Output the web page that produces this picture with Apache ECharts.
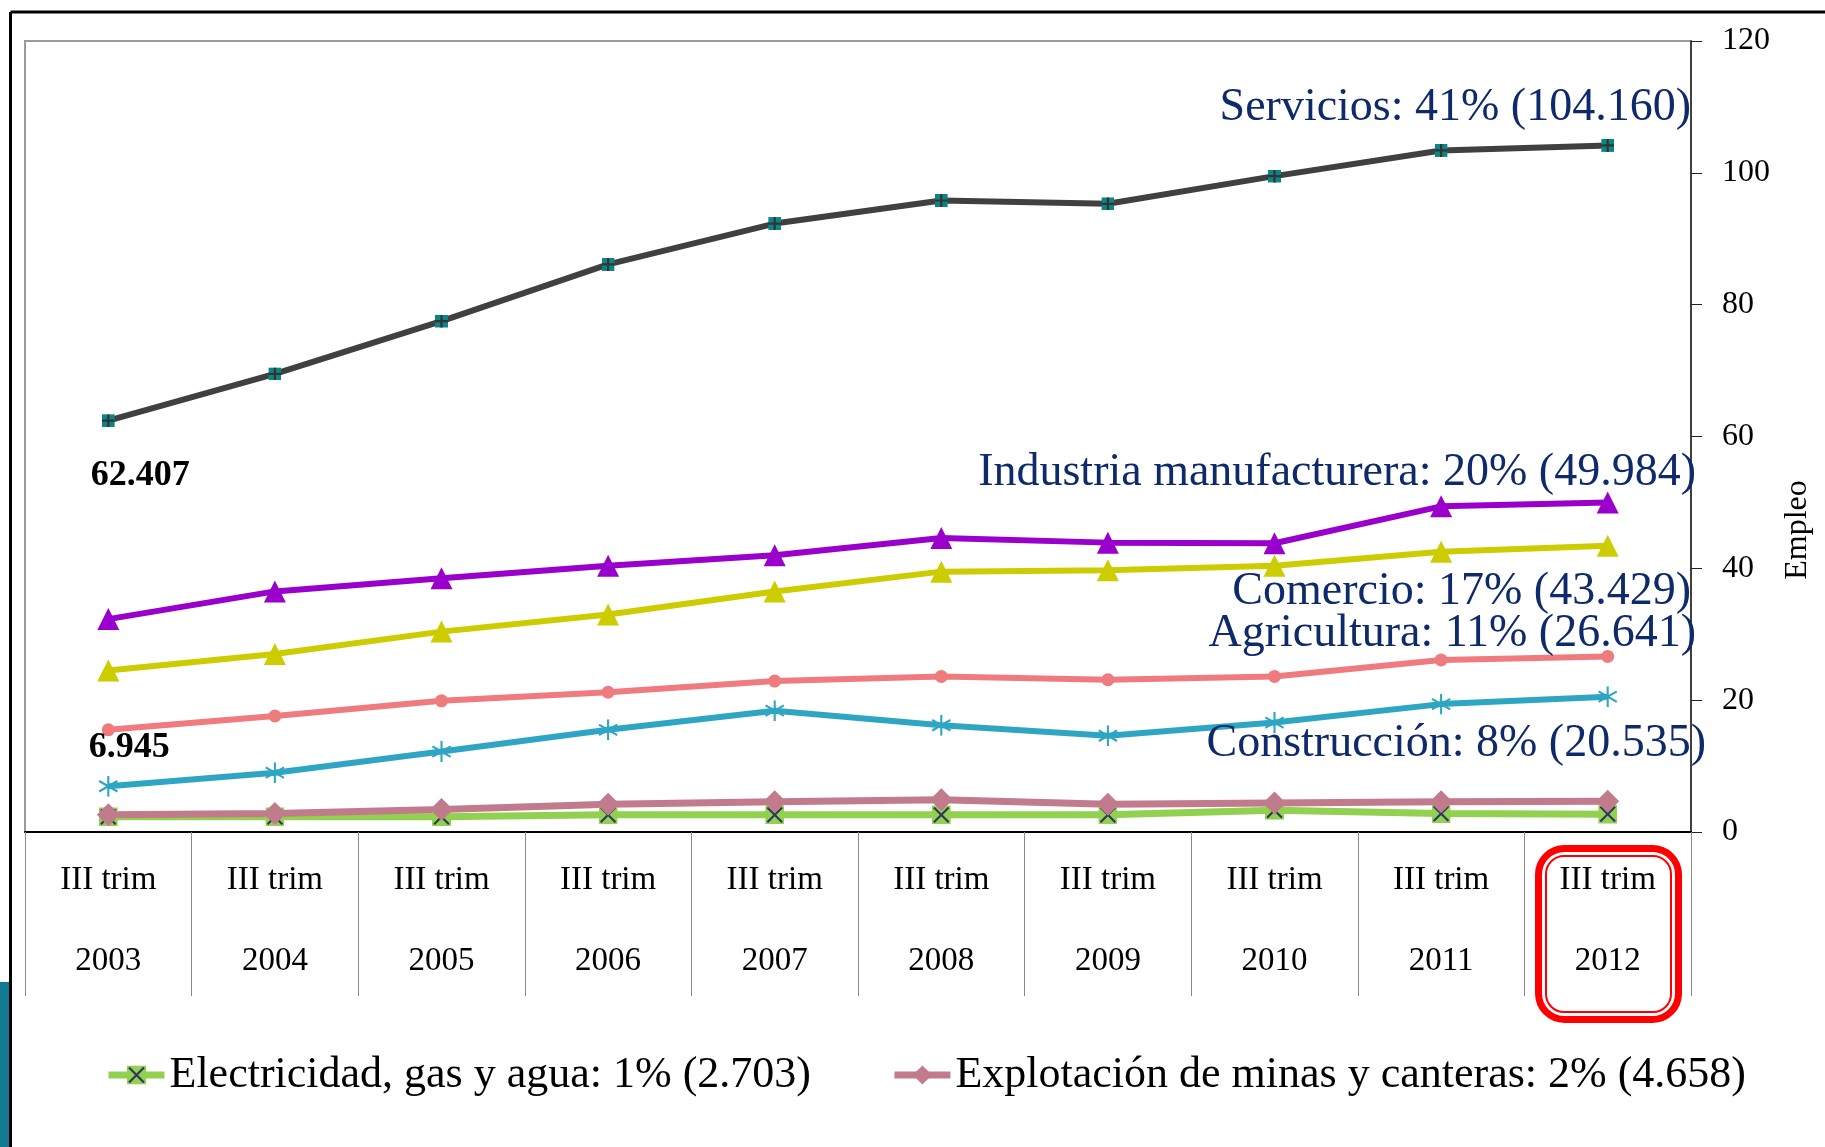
<!DOCTYPE html>
<html>
<head>
<meta charset="utf-8">
<script src="https://cdn.jsdelivr.net/npm/echarts@6/dist/echarts.min.js"></script>
<style>
  html, body { margin: 0; padding: 0; background: #fff; }
  #chart { width: 1825px; height: 1147px; }
</style>
</head>
<body>
<div id="chart"></div>
<script>
// periodos (III trimestre de cada año)
const years = ["2003", "2004", "2005", "2006", "2007", "2008", "2009", "2010", "2011", "2012"];
const yTicks = [0, 20, 40, 60, 80, 100, 120];

// empleo en miles
const electricidad = [2.3, 2.3, 2.3, 2.6, 2.6, 2.6, 2.6, 3.3, 2.8, 2.703];
const minas = [2.6, 2.8, 3.4, 4.2, 4.6, 4.9, 4.2, 4.4, 4.6, 4.658];
const construccion = [6.945, 9.0, 12.2, 15.5, 18.4, 16.2, 14.6, 16.6, 19.4, 20.535];
const agricultura = [15.5, 17.6, 19.9, 21.2, 22.9, 23.6, 23.1, 23.6, 26.1, 26.641];
const comercio = [24.5, 27.0, 30.4, 33.0, 36.5, 39.5, 39.7, 40.4, 42.5, 43.429];
const industria = [32.3, 36.5, 38.5, 40.4, 42.0, 44.6, 43.9, 43.8, 49.4, 49.984];
const servicios = [62.407, 69.5, 77.5, 86.1, 92.3, 95.8, 95.3, 99.5, 103.4, 104.160];

// participación en 2012 (%)
const shares = { electricidad: 1, minas: 2, construccion: 8, agricultura: 11, comercio: 17, industria: 20, servicios: 41 };

const FONT = "Liberation Serif";
const NAVY = "#0f2a6b";

const last = arr => arr[arr.length - 1].toFixed(3);
const svgIcon = s => "image://data:image/svg+xml;charset=utf-8," + encodeURIComponent(s);

const iconServicios = svgIcon("<svg xmlns='http://www.w3.org/2000/svg' width='12' height='12'><rect width='12' height='12' fill='#0b8585'/><path d='M6 0V12M0 6H12' stroke='#333' stroke-width='2'/></svg>");
const iconElectricidad = svgIcon("<svg xmlns='http://www.w3.org/2000/svg' width='18' height='18'><rect width='18' height='18' fill='#92d050'/><path d='M2 2L16 16M16 2L2 16' stroke='#2e3560' stroke-width='2'/></svg>");
const iconConstruccion = svgIcon("<svg xmlns='http://www.w3.org/2000/svg' width='20' height='20'><path d='M10 0V20M1.3 5L18.7 15M1.3 15L18.7 5' stroke='#2ea6c3' stroke-width='2'/></svg>");

const nameElectricidad = "Electricidad, gas y agua: " + shares.electricidad + "% (" + last(electricidad) + ")";
const nameMinas = "Explotación de minas y canteras: " + shares.minas + "% (" + last(minas) + ")";

const chart = echarts.init(document.getElementById("chart"));

const firstLabel = (arr, label) => arr.map((v, i) => i === 0 ? { value: v, label: Object.assign({
  show: true,
  formatter: p => p.value.toFixed(3),
  fontFamily: FONT,
  fontWeight: "bold",
  fontSize: 36,
  color: "#000"
}, label) } : v);

const annotation = (x, y, text) => ({
  type: "text", z: 20, x: x, y: y,
  style: { text: text, fontFamily: FONT, fontSize: 46, fill: NAVY, align: "right", verticalAlign: "middle" }
});

const option = {
  animation: false,
  backgroundColor: "#fff",
  grid: {
    left: 25,
    right: 134,
    top: 41,
    bottom: 315,
    show: true,
    borderColor: "#9a9a9a",
    borderWidth: 2
  },
  legend: {
    data: [nameElectricidad, nameMinas],
    left: 100,
    top: 1048,
    itemGap: 80,
    itemWidth: 56,
    itemHeight: 24,
    lineStyle: { width: 7 },
    textStyle: { fontFamily: FONT, fontSize: 44, color: "#000" }
  },
  xAxis: {
    type: "category",
    data: years,
    boundaryGap: true,
    axisLine: { lineStyle: { color: "#000", width: 2 } },
    axisTick: { show: true, interval: 0, length: 164, lineStyle: { color: "#8a8a8a", width: 1 } },
    axisLabel: {
      interval: 0,
      margin: 8,
      fontFamily: FONT,
      fontSize: 33,
      lineHeight: 81,
      color: "#000",
      formatter: v => "III trim\n" + v
    }
  },
  yAxis: {
    type: "value",
    position: "right",
    min: yTicks[0],
    max: yTicks[yTicks.length - 1],
    interval: 20,
    splitLine: { show: false },
    axisLine: { show: true, lineStyle: { color: "#222", width: 1.5 } },
    axisTick: { show: true, length: 11, lineStyle: { color: "#222" } },
    axisLabel: { margin: 31, fontFamily: FONT, fontSize: 32, color: "#000" }
  },
  series: [
    {
      name: nameElectricidad,
      type: "line",
      data: electricidad,
      symbol: iconElectricidad,
      symbolSize: 19,
      lineStyle: { color: "#92d050", width: 7 },
      itemStyle: { color: "#92d050" }
    },
    {
      name: nameMinas,
      type: "line",
      data: minas,
      symbol: "diamond",
      symbolSize: 23,
      lineStyle: { color: "#c27b8c", width: 7 },
      itemStyle: { color: "#c27b8c" }
    },
    {
      name: "Construcción",
      type: "line",
      data: firstLabel(construccion, { position: "top", distance: 10, offset: [21, 0] }),
      symbol: iconConstruccion,
      symbolSize: 21,
      lineStyle: { color: "#2ea6c3", width: 6 },
      itemStyle: { color: "#2ea6c3" }
    },
    {
      name: "Agricultura",
      type: "line",
      data: agricultura,
      symbol: "circle",
      symbolSize: 13,
      lineStyle: { color: "#ef7b7e", width: 6 },
      itemStyle: { color: "#ef7b7e" }
    },
    {
      name: "Comercio",
      type: "line",
      data: comercio,
      symbol: "triangle",
      symbolSize: [22, 22],
      lineStyle: { color: "#cccc00", width: 6 },
      itemStyle: { color: "#cccc00" }
    },
    {
      name: "Industria manufacturera",
      type: "line",
      data: industria,
      symbol: "triangle",
      symbolSize: [22, 22],
      lineStyle: { color: "#9900cc", width: 6 },
      itemStyle: { color: "#9900cc" }
    },
    {
      name: "Servicios",
      type: "line",
      data: firstLabel(servicios, { position: "bottom", distance: 31, offset: [32, 0] }),
      symbol: iconServicios,
      symbolSize: 13,
      lineStyle: { color: "#404040", width: 6 },
      itemStyle: { color: "#404040" }
    }
  ],
  graphic: [
    // marco exterior
    { type: "line", shape: { x1: 10.5, y1: 12, x2: 1825, y2: 12 }, style: { stroke: "#000", lineWidth: 3 } },
    { type: "line", shape: { x1: 10.5, y1: 12, x2: 10.5, y2: 1147 }, style: { stroke: "#000", lineWidth: 3 } },
    { type: "rect", shape: { x: 0, y: 982, width: 9, height: 165 }, style: { fill: "#127a90" } },
    // recuadro rojo sobre 2012
    { type: "rect", z: 20, shape: { x: 1538.5, y: 848.5, width: 140, height: 171, r: 26 }, style: { fill: null, stroke: "#ff0000", lineWidth: 7 } },
    { type: "rect", z: 20, shape: { x: 1546, y: 856, width: 125, height: 156, r: 18 }, style: { fill: null, stroke: "#ff0000", lineWidth: 2 } },
    // eje Y
    { type: "text", z: 20, x: 1798, y: 530, rotation: Math.PI / 2,
      style: { text: "Empleo", fontFamily: FONT, fontSize: 32, fill: "#000", align: "center", verticalAlign: "middle" } },
    // anotaciones
    annotation(1691, 108, "Servicios: " + shares.servicios + "% (" + last(servicios) + ")"),
    annotation(1696, 473, "Industria manufacturera: " + shares.industria + "% (" + last(industria) + ")"),
    annotation(1691, 592, "Comercio: " + shares.comercio + "% (" + last(comercio) + ")"),
    annotation(1696, 634, "Agricultura: " + shares.agricultura + "% (" + last(agricultura) + ")"),
    annotation(1706, 744, "Construcción: " + shares.construccion + "% (" + last(construccion) + ")")
  ]
};

chart.setOption(option);
</script>
</body>
</html>
